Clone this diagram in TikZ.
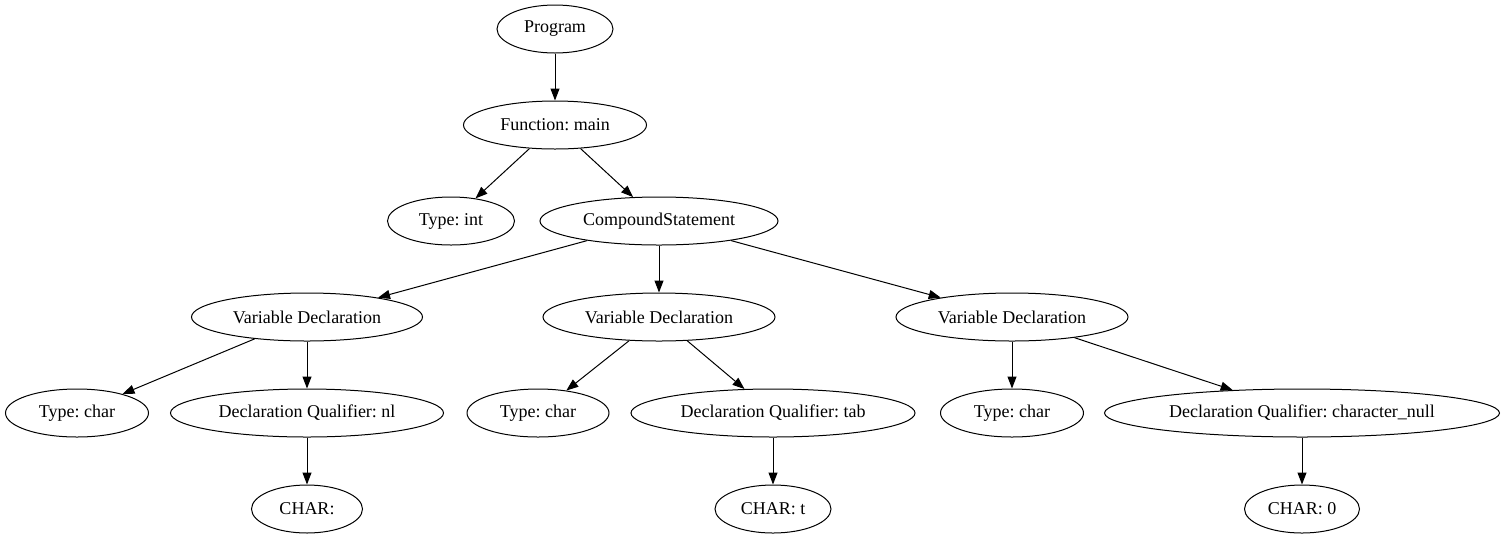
\documentclass[tikz,border=0pt]{standalone}
\usepackage{fontspec}
\setmainfont{Liberation Serif}
\usetikzlibrary{shapes.geometric,arrows.meta}
\frenchspacing
\tikzset{
  nd/.style={draw, ellipse, line width=1pt, inner sep=0pt, minimum height=48pt, font=\fontsize{18pt}{20pt}\selectfont},
  edge/.style={draw, line width=1pt, -{Triangle[length=12pt,width=9pt]}}
}
\begin{document}
\begin{tikzpicture}[x=1pt,y=-1pt]
\useasboundingbox (0,0) rectangle (1507,539);
\node[nd, minimum width=116pt] (prog) at (555,29) {Program};
\node[nd, minimum width=183pt] (fn) at (555,125) {Function: main};
\node[nd, minimum width=127pt] (tint) at (451,221) {Type: int};
\node[nd, minimum width=238pt] (cs) at (659,221) {CompoundStatement};
\node[nd, minimum width=231pt] (vd1) at (307,317) {Variable Declaration};
\node[nd, minimum width=232pt] (vd2) at (659,317) {Variable Declaration};
\node[nd, minimum width=232pt] (vd3) at (1012,317) {Variable Declaration};
\node[nd, minimum width=143pt] (tc1) at (77,413) {Type: char};
\node[nd, minimum width=273pt] (dq1) at (307,413) {Declaration Qualifier: nl};
\node[nd, minimum width=142pt] (tc2) at (538,413) {Type: char};
\node[nd, minimum width=284pt] (dq2) at (773,413) {Declaration Qualifier: tab};
\node[nd, minimum width=143pt] (tc3) at (1012,413) {Type: char};
\node[nd, minimum width=395pt] (dq3) at (1302,413) {Declaration Qualifier: character\_null};
\node[nd, minimum width=111pt] (c1) at (307,509) {CHAR:};
\node[nd, minimum width=116pt] (c2) at (773,509) {CHAR: t};
\node[nd, minimum width=115pt] (c3) at (1302,509) {CHAR: 0};
\path[edge] (prog) -- (fn);
\path[edge] (fn) -- (tint);
\path[edge] (fn) -- (cs);
\path[edge] (cs) -- (vd1);
\path[edge] (cs) -- (vd2);
\path[edge] (cs) -- (vd3);
\path[edge] (vd1) -- (tc1);
\path[edge] (vd1) -- (dq1);
\path[edge] (vd2) -- (tc2);
\path[edge] (vd2) -- (dq2);
\path[edge] (vd3) -- (tc3);
\path[edge] (vd3) -- (dq3);
\path[edge] (dq1) -- (c1);
\path[edge] (dq2) -- (c2);
\path[edge] (dq3) -- (c3);
\end{tikzpicture}
\end{document}
